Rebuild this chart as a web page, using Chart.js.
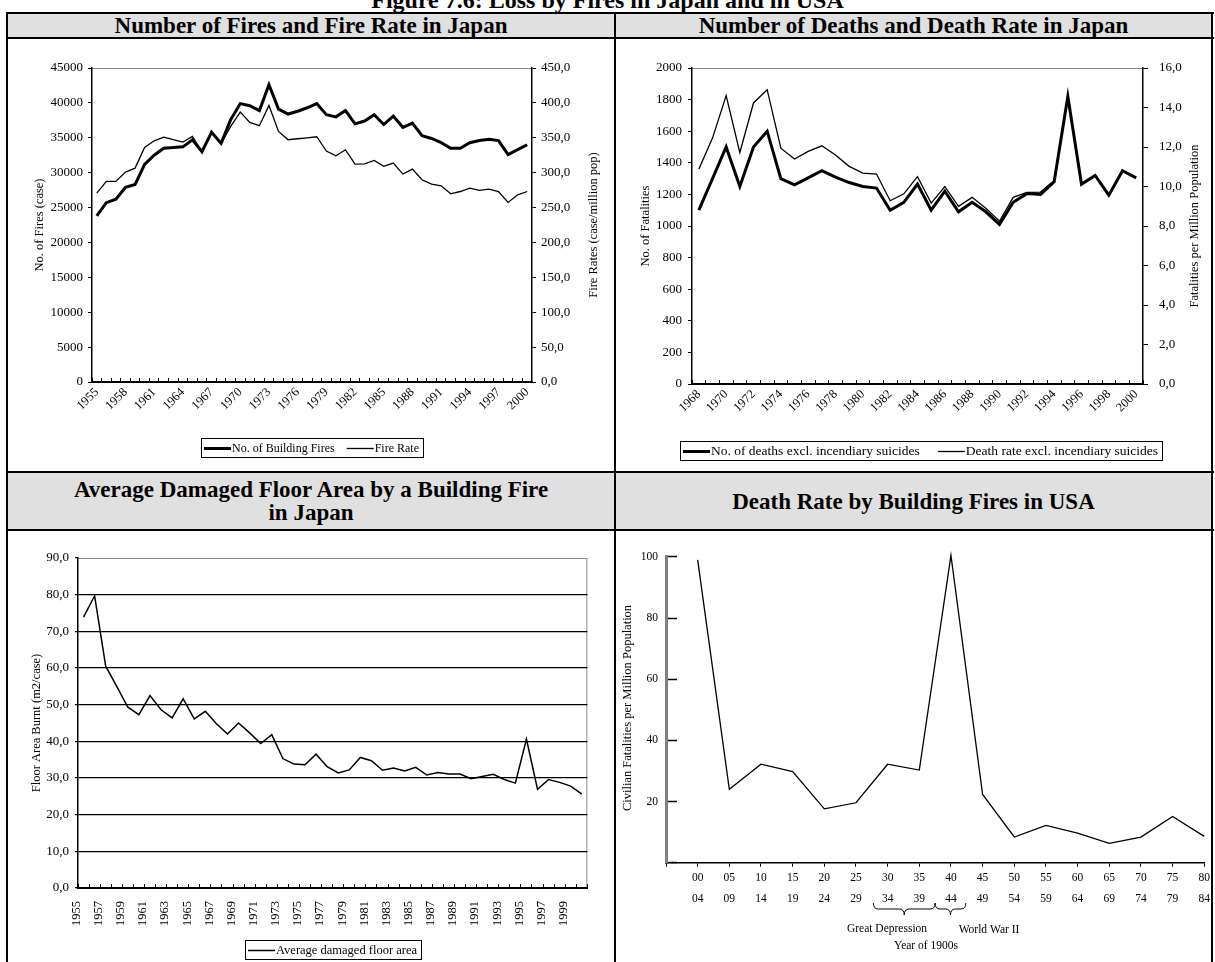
<!DOCTYPE html>
<html>
<head>
<meta charset="utf-8">
<title>Figure 7.6: Loss by Fires in Japan and in USA</title>
<script src="https://cdn.jsdelivr.net/npm/chart.js@4.4.1/dist/chart.umd.min.js"></script>
<style>
  html, body { margin: 0; padding: 0; background: #fff; }
  body { width: 1215px; height: 962px; position: relative; overflow: hidden;
         font-family: 'Liberation Serif', 'Times New Roman', Times, serif; color: #000; }
  .rule { position: absolute; background: #000; }
  .head { position: absolute; background: #e0e0e0; font-weight: bold; font-size: 23px;
          line-height: 23px; text-align: center; }
  .fig { position: absolute; left: 0; top: -12px; width: 1215px; text-align: center;
         font-weight: bold; font-size: 24px; line-height: 24px; }
  canvas { position: absolute; }
</style>
</head>
<body>
<div class="fig">Figure 7.6: Loss by Fires in Japan and in USA</div>

<!-- header rows -->
<div class="head" style="left:8px;top:14px;width:606px;height:23px;">Number of Fires and Fire Rate in Japan</div>
<div class="head" style="left:616px;top:14px;width:595px;height:23px;">Number of Deaths and Death Rate in Japan</div>
<div class="head" style="left:8px;top:473px;width:606px;height:56px;"><div style="padding-top:5px;">Average Damaged Floor Area by a Building Fire<br>in Japan</div></div>
<div class="head" style="left:616px;top:473px;width:595px;height:56px;"><div style="padding-top:17px;">Death Rate by Building Fires in USA</div></div>

<!-- table rules -->
<div class="rule" style="left:6px;top:12px;width:1208px;height:2px;"></div>
<div class="rule" style="left:6px;top:37px;width:1208px;height:2px;"></div>
<div class="rule" style="left:6px;top:471px;width:1208px;height:2px;"></div>
<div class="rule" style="left:6px;top:529px;width:1208px;height:2px;"></div>
<div class="rule" style="left:6px;top:12px;width:2px;height:950px;"></div>
<div class="rule" style="left:614px;top:12px;width:2px;height:950px;"></div>
<div class="rule" style="left:1211px;top:12px;width:2px;height:950px;"></div>

<canvas id="fires" width="606" height="432" style="left:8px;top:39px;"></canvas>
<canvas id="deaths" width="595" height="432" style="left:616px;top:39px;"></canvas>
<canvas id="area" width="606" height="431" style="left:8px;top:531px;"></canvas>
<canvas id="usa" width="595" height="431" style="left:616px;top:531px;"></canvas>

<script>
// ---------- data ----------
const fireYears = ['1955','1956','1957','1958','1959','1960','1961','1962','1963','1964',
  '1965','1966','1967','1968','1969','1970','1971','1972','1973','1974',
  '1975','1976','1977','1978','1979','1980','1981','1982','1983','1984',
  '1985','1986','1987','1988','1989','1990','1991','1992','1993','1994',
  '1995','1996','1997','1998','1999','2000'];
const buildingFires = [23800, 25700, 26200, 27900, 28300, 31200, 32500, 33500, 33600, 33700,
  34700, 33000, 35800, 34200, 37600, 39900, 39600, 38900, 42600, 39100,
  38400, 38800, 39300, 39900, 38300, 38000, 38900, 37000, 37400, 38300,
  36900, 38100, 36500, 37100, 35300, 34900, 34300, 33500, 33500, 34300,
  34600, 34800, 34600, 32600, 33300, 34000];
const fireRate = [270.7, 287.4, 287.4, 300.8, 306.5, 336.2, 345.7, 351.0, 347.2, 343.8,
  352.0, 329.5, 358.2, 342.0, 366.3, 386.9, 372.0, 367.3, 396.4, 359.1,
  347.2, 348.6, 350.0, 351.5, 331.0, 324.2, 332.8, 312.3, 312.7, 317.5,
  309.0, 313.7, 298.0, 305.0, 289.8, 283.6, 281.2, 269.7, 273.0, 277.8,
  274.5, 276.4, 273.0, 257.3, 268.3, 273.0];

const deathYears = ['1968','1969','1970','1971','1972','1973','1974','1975','1976','1977',
  '1978','1979','1980','1981','1982','1983','1984','1985','1986','1987',
  '1988','1989','1990','1991','1992','1993','1994','1995','1996','1997',
  '1998','1999','2000'];
const fireDeaths = [1100, 1300, 1500, 1250, 1500, 1600, 1300, 1260, 1305, 1350,
  1310, 1275, 1250, 1240, 1100, 1150, 1265, 1100, 1220, 1090,
  1150, 1090, 1010, 1150, 1205, 1200, 1280, 1820, 1265, 1320,
  1195, 1350, 1305];
const deathRate = [10.88, 12.45, 14.6, 11.72, 14.23, 14.9, 11.94, 11.39, 11.78, 12.06,
  11.6, 11.02, 10.68, 10.63, 9.28, 9.63, 10.5, 9.16, 10.0, 9.0,
  9.45, 8.9, 8.24, 9.45, 9.7, 9.72, 10.3, 14.6, 10.12, 10.58,
  9.58, 10.8, 10.45];

const areaYears = fireYears;
const floorArea = [73.9, 79.7, 60.5, 55.0, 49.3, 47.3, 52.5, 48.6, 46.4, 51.6,
  46.1, 48.2, 44.8, 42.0, 45.0, 42.3, 39.4, 41.8, 35.3, 33.8,
  33.6, 36.5, 33.1, 31.4, 32.2, 35.6, 34.7, 32.1, 32.7, 31.9,
  32.9, 30.8, 31.5, 31.1, 31.1, 29.8, 30.4, 31.0, 29.6, 28.6,
  40.6, 26.9, 29.6, 28.8, 27.8, 25.6];

const periodStart = ['00','05','10','15','20','25','30','35','40','45','50','55','60','65','70','75','80'];
const periodEnd   = ['04','09','14','19','24','29','34','39','44','49','54','59','64','69','74','79','84'];
const usaDeathRate = [99, 24, 32.2, 29.8, 17.6, 19.6, 32.2, 30.3, 100.5, 22.3, 8.4, 12.2, 9.7, 6.3, 8.4, 15.1, 8.6];

// ---------- shared look ----------
const SERIF = "'Liberation Serif', 'Times New Roman', Times, serif";
Chart.defaults.font.family = SERIF;
Chart.defaults.color = '#000';

const comma1 = v => Number(v).toFixed(1).replace('.', ',');
const plain = v => String(v);

// thin grey frame along the top / right of the plot area
function plotFrame(sides) {
  return {
    id: 'plotFrame',
    beforeDraw(chart) {
      const { ctx, chartArea: a } = chart;
      ctx.save();
      ctx.strokeStyle = '#8c8c8c';
      ctx.lineWidth = 1;
      ctx.beginPath();
      if (sides.top) { ctx.moveTo(a.left, a.top + 0.5); ctx.lineTo(a.right, a.top + 0.5); }
      if (sides.right) { ctx.moveTo(a.right - 0.5, a.top); ctx.lineTo(a.right - 0.5, a.bottom); }
      ctx.stroke();
      ctx.restore();
    }
  };
}

// boxed legend with line samples, built from the dataset labels and styles
function boxLegend(cfg) {
  return {
    id: 'boxLegend',
    afterDraw(chart) {
      const ctx = chart.ctx;
      const sets = chart.data.datasets;
      ctx.save();
      ctx.font = cfg.size + 'px ' + SERIF;
      const widths = sets.map(d => ctx.measureText(d.label).width);
      let total = cfg.padL + cfg.padR;
      widths.forEach((w, i) => { total += cfg.sample + cfg.gap + w + (i ? cfg.between : 0); });
      total = Math.round(total);
      const a = chart.chartArea;
      const x = cfg.left !== undefined ? cfg.left : Math.round((a.left + a.right) / 2 - total / 2);
      ctx.strokeStyle = '#000';
      ctx.lineWidth = 1;
      ctx.strokeRect(x + 0.5, cfg.top + 0.5, total, cfg.height);
      const cy = cfg.top + cfg.height / 2 + 1;
      let cx = x + cfg.padL;
      sets.forEach((d, i) => {
        if (i) cx += cfg.between;
        ctx.beginPath();
        ctx.strokeStyle = d.borderColor;
        ctx.lineWidth = d.borderWidth;
        ctx.moveTo(cx, cy);
        ctx.lineTo(cx + cfg.sample, cy);
        ctx.stroke();
        cx += cfg.sample + cfg.gap;
        ctx.fillStyle = '#000';
        ctx.textAlign = 'left';
        ctx.textBaseline = 'middle';
        ctx.fillText(d.label, cx, cy);
        cx += widths[i];
      });
      ctx.restore();
    }
  };
}

// free text (axis titles, notes)
function captions(items) {
  return {
    id: 'captions',
    afterDraw(chart) {
      const ctx = chart.ctx;
      items.forEach(c => {
        ctx.save();
        ctx.translate(c.x, c.y);
        if (c.rot) ctx.rotate(c.rot);
        ctx.font = c.size + 'px ' + SERIF;
        ctx.fillStyle = '#000';
        ctx.textAlign = 'center';
        ctx.textBaseline = 'middle';
        ctx.fillText(c.text, 0, 0);
        ctx.restore();
      });
    }
  };
}

// curly braces under the period axis
function periodBraces(items) {
  return {
    id: 'periodBraces',
    afterDraw(chart) {
      const xs = chart.scales.x;
      const labels = chart.data.labels;
      const idx = p => labels.findIndex(l => Array.isArray(l) && l[0] === p);
      const step = xs.getPixelForValue(1) - xs.getPixelForValue(0);
      const ctx = chart.ctx;
      ctx.save();
      ctx.strokeStyle = '#000';
      ctx.lineWidth = 1;
      items.forEach(b => {
        const x1 = xs.getPixelForValue(idx(b.from)) - step * b.padFrom;
        const x2 = xs.getPixelForValue(idx(b.to)) + step * b.padTo;
        const tip = (x1 + x2) / 2;
        const y0 = b.top, h = b.height, mid = y0 + h / 2, r = Math.min(5, (x2 - x1) / 5);
        ctx.beginPath();
        ctx.moveTo(x1, y0);
        ctx.quadraticCurveTo(x1, mid, x1 + r, mid);
        ctx.lineTo(tip - r, mid);
        ctx.quadraticCurveTo(tip, mid, tip, y0 + h);
        ctx.quadraticCurveTo(tip, mid, tip + r, mid);
        ctx.lineTo(x2 - r, mid);
        ctx.quadraticCurveTo(x2, mid, x2, y0);
        ctx.stroke();
      });
      ctx.restore();
    }
  };
}

const base = {
  responsive: false,
  animation: false,
  devicePixelRatio: 1,
  events: [],
  elements: { point: { radius: 0 }, line: { tension: 0, borderJoinStyle: 'miter' } }
};

// ---------- Number of fires and fire rate ----------
new Chart(document.getElementById('fires'), {
  type: 'line',
  data: {
    labels: fireYears,
    datasets: [
      { label: 'No. of Building Fires', data: buildingFires, yAxisID: 'y', borderColor: '#000', borderWidth: 3 },
      { label: 'Fire Rate', data: fireRate, yAxisID: 'y2', borderColor: '#000', borderWidth: 1.3 }
    ]
  },
  options: Object.assign({}, base, {
    layout: { padding: { left: 0, right: 0, top: 29, bottom: 0 }, autoPadding: false },
    plugins: { legend: { display: false }, tooltip: { enabled: false } },
    scales: {
      x: {
        type: 'category', offset: true,
        grid: { offset: true, drawOnChartArea: false, tickLength: -4, tickColor: '#000', tickWidth: 1 },
        border: { color: '#000', width: 2 },
        ticks: { autoSkip: false, minRotation: 45, maxRotation: 45, padding: 7, font: { size: 12.5 },
                 callback(v, i) { return i % 3 === 0 ? this.getLabelForValue(v) : ''; } },
        afterFit(s) { s.height = 89; }
      },
      y: {
        position: 'left', min: 0, max: 45000,
        ticks: { stepSize: 5000, padding: 5, font: { size: 13 }, callback: plain },
        grid: { drawOnChartArea: false, tickLength: 4, tickColor: '#000' },
        border: { color: '#000', width: 1.5 },
        afterFit(s) { s.width = 84; }
      },
      y2: {
        position: 'right', min: 0, max: 450,
        ticks: { stepSize: 50, padding: 5, font: { size: 13 }, callback: comma1 },
        grid: { drawOnChartArea: false, tickLength: 4, tickColor: '#000' },
        border: { color: '#000', width: 1.5 },
        afterFit(s) { s.width = 82; }
      }
    }
  }),
  plugins: [
    plotFrame({ top: true }),
    boxLegend({ top: 399, height: 19, size: 12, sample: 27, gap: 1, between: 12, padL: 3, padR: 4 }),
    captions([
      { text: 'No. of Fires (case)', x: 32, y: 186, rot: -Math.PI / 2, size: 12.5 },
      { text: 'Fire Rates (case/million pop)', x: 586, y: 186, rot: -Math.PI / 2, size: 12.5 }
    ])
  ]
});

// ---------- Number of deaths and death rate ----------
new Chart(document.getElementById('deaths'), {
  type: 'line',
  data: {
    labels: deathYears,
    datasets: [
      { label: 'No. of deaths excl. incendiary suicides', data: fireDeaths, yAxisID: 'y', borderColor: '#000', borderWidth: 3 },
      { label: 'Death rate excl. incendiary suicides', data: deathRate, yAxisID: 'y2', borderColor: '#000', borderWidth: 1.3 }
    ]
  },
  options: Object.assign({}, base, {
    layout: { padding: { left: 0, right: 0, top: 29, bottom: 0 }, autoPadding: false },
    plugins: { legend: { display: false }, tooltip: { enabled: false } },
    scales: {
      x: {
        type: 'category', offset: true,
        grid: { offset: true, drawOnChartArea: false, tickLength: -4, tickColor: '#000', tickWidth: 1 },
        border: { color: '#000', width: 2 },
        ticks: { autoSkip: false, minRotation: 45, maxRotation: 45, padding: 7, font: { size: 12.5 },
                 callback(v, i) { return i % 2 === 0 ? this.getLabelForValue(v) : ''; } },
        afterFit(s) { s.height = 87; }
      },
      y: {
        position: 'left', min: 0, max: 2000,
        ticks: { stepSize: 200, padding: 6, font: { size: 13 }, callback: plain },
        grid: { drawOnChartArea: false, tickLength: 4, tickColor: '#000' },
        border: { color: '#000', width: 1.5 },
        afterFit(s) { s.width = 76; }
      },
      y2: {
        position: 'right', min: 0, max: 16,
        ticks: { stepSize: 2, padding: 11, font: { size: 13 }, callback: comma1 },
        grid: { drawOnChartArea: false, tickLength: 5, tickColor: '#000' },
        border: { color: '#000', width: 1.5 },
        afterFit(s) { s.width = 68; }
      }
    }
  }),
  plugins: [
    plotFrame({ top: true }),
    boxLegend({ left: 64, top: 402, height: 19, size: 13.5, sample: 27, gap: 1, between: 18, padL: 3, padR: 4 }),
    captions([
      { text: 'No. of Fatalities', x: 30, y: 187, rot: -Math.PI / 2, size: 12.5 },
      { text: 'Fatalities per Million Population', x: 579, y: 187, rot: -Math.PI / 2, size: 12.5 }
    ])
  ]
});

// ---------- Average damaged floor area ----------
new Chart(document.getElementById('area'), {
  type: 'line',
  data: {
    labels: areaYears,
    datasets: [
      { label: 'Average damaged floor area', data: floorArea, borderColor: '#000', borderWidth: 1.5 }
    ]
  },
  options: Object.assign({}, base, {
    layout: { padding: { left: 0, right: 17, top: 27, bottom: 0 }, autoPadding: false },
    plugins: { legend: { display: false }, tooltip: { enabled: false } },
    scales: {
      x: {
        type: 'category', offset: true,
        grid: { offset: true, drawOnChartArea: false, tickLength: -4, tickColor: '#000', tickWidth: 1 },
        border: { color: '#000', width: 2 },
        ticks: { autoSkip: false, minRotation: 90, maxRotation: 90, padding: 17, labelOffset: -7,
                 font: { size: 12.5 },
                 callback(v, i) { return i % 2 === 0 ? this.getLabelForValue(v) : ''; } },
        afterFit(s) { s.height = 74; }
      },
      y: {
        position: 'left', min: 0, max: 90,
        ticks: { stepSize: 10, padding: 6, font: { size: 13 }, callback: comma1 },
        grid: { drawOnChartArea: true, lineWidth: 1.2, tickLength: 3, tickColor: '#000',
                color: c => (c.tick && c.tick.value === 90) ? 'rgba(0,0,0,0)' : '#000' },
        border: { color: '#000', width: 1.5 },
        afterFit(s) { s.width = 70; }
      }
    }
  }),
  plugins: [
    plotFrame({ top: true, right: true }),
    boxLegend({ top: 409, height: 19, size: 12.5, sample: 27, gap: 1, between: 12, padL: 3, padR: 4 }),
    captions([
      { text: 'Floor Area Burnt (m2/case)', x: 29, y: 192, rot: -Math.PI / 2, size: 12.5 }
    ])
  ]
});

// ---------- Death rate by building fires in USA ----------
const usaLabels = [''].concat(periodStart.map((p, i) => [p, periodEnd[i]]));
new Chart(document.getElementById('usa'), {
  type: 'line',
  data: {
    labels: usaLabels,
    datasets: [
      { label: 'Civilian fatalities per million population', data: [null].concat(usaDeathRate),
        borderColor: '#000', borderWidth: 1.3, clip: false }
    ]
  },
  options: Object.assign({}, base, {
    layout: { padding: { left: 0, right: 5, top: 14, bottom: 0 }, autoPadding: false },
    plugins: { legend: { display: false }, tooltip: { enabled: false } },
    scales: {
      x: {
        type: 'category', offset: false,
        grid: { offset: false, drawOnChartArea: false, tickLength: 4, tickColor: '#000', tickWidth: 1 },
        border: { color: '#000', width: 1.5 },
        ticks: { autoSkip: false, maxRotation: 0, minRotation: 0, padding: 1,
                 font: { size: 11.5, lineHeight: 1.8 } },
        afterFit(s) { s.height = 99.3; }
      },
      y: {
        position: 'left', min: 0, max: 100,
        ticks: { stepSize: 20, padding: 19, font: { size: 11.5 },
                 callback: v => (v === 0 ? '' : String(v)) },
        grid: { drawOnChartArea: false, tickLength: -11, tickColor: '#000', tickWidth: 1.5 },
        border: { color: '#808080', width: 3 },
        afterFit(s) { s.width = 50; }
      }
    }
  }),
  plugins: [
    periodBraces([
      { from: '30', to: '35', padFrom: 0.45, padTo: 0.5, top: 372, height: 12 },
      { from: '40', to: '40', padFrom: 0.5, padTo: 0.47, top: 372, height: 12 }
    ]),
    captions([
      { text: 'Civilian Fatalities per Million Population', x: 11.5, y: 177, rot: -Math.PI / 2, size: 12.5 },
      { text: 'Great Depression', x: 271, y: 398, size: 11.5 },
      { text: 'World War II', x: 373, y: 399, size: 11.5 },
      { text: 'Year of 1900s', x: 310, y: 415, size: 11.5 }
    ])
  ]
});
</script>
</body>
</html>
